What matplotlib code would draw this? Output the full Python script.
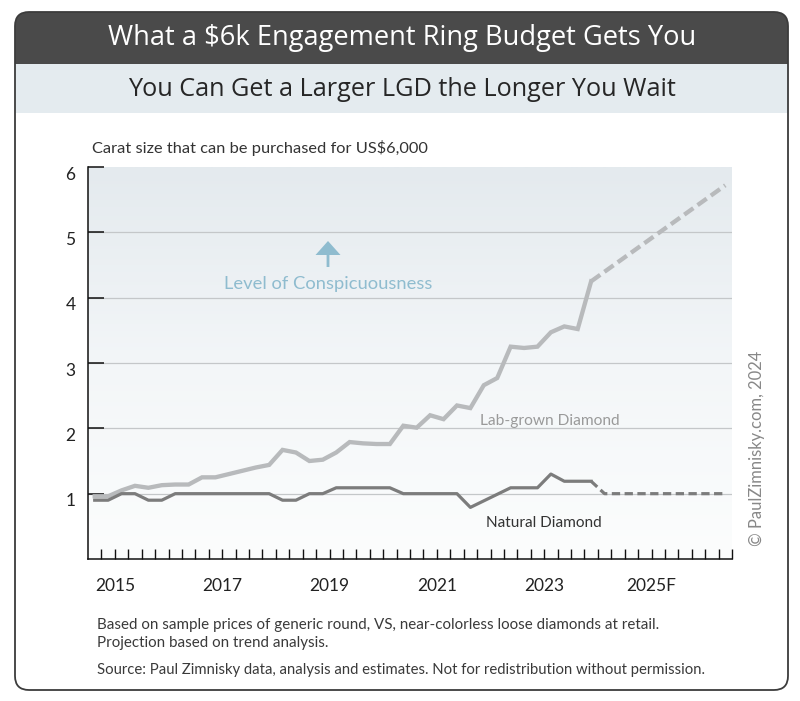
import matplotlib
matplotlib.use("Agg")
import matplotlib.pyplot as plt
import numpy as np
from matplotlib.patches import FancyBboxPatch, Rectangle, FancyArrow
from matplotlib.colors import LinearSegmentedColormap
from matplotlib.transforms import ScaledTranslation

plt.rcParams['font.family'] = ['Lato', 'DejaVu Sans']

# ---------------- data ----------------
years_q = [2015.125, 2015.375, 2015.625, 2015.875,
           2016.125, 2016.375, 2016.625, 2016.875,
           2017.125, 2017.375, 2017.625, 2017.875,
           2018.125, 2018.375, 2018.625, 2018.875,
           2019.125, 2019.375, 2019.625, 2019.875,
           2020.125, 2020.375, 2020.625, 2020.875,
           2021.125, 2021.375, 2021.625, 2021.875,
           2022.125, 2022.375, 2022.625, 2022.875,
           2023.125, 2023.375, 2023.625, 2023.875,
           2024.125, 2024.375]
lab_grown = [0.96, 0.96, 1.05, 1.12,
             1.09, 1.13, 1.14, 1.14,
             1.25, 1.25, 1.30, 1.35,
             1.40, 1.44, 1.67, 1.63,
             1.50, 1.52, 1.63, 1.79,
             1.77, 1.76, 1.76, 2.04,
             2.01, 2.20, 2.14, 2.35,
             2.31, 2.66, 2.77, 3.25,
             3.23, 3.25, 3.47, 3.56,
             3.52, 4.25]
natural = [0.90, 0.90, 1.00, 1.00,
           0.90, 0.90, 1.00, 1.00,
           1.00, 1.00, 1.00, 1.00,
           1.00, 1.00, 0.90, 0.90,
           1.00, 1.00, 1.09, 1.09,
           1.09, 1.09, 1.09, 1.00,
           1.00, 1.00, 1.00, 1.00,
           0.79, 0.89, 0.99, 1.09,
           1.09, 1.09, 1.30, 1.19,
           1.19, 1.19]
lab_proj_x = [2024.375, 2026.875]
lab_proj_y = [4.25, 5.72]
nat_proj_x = [2024.375, 2024.625, 2026.875]
nat_proj_y = [1.19, 1.00, 1.00]

year_labels = ['2015', '2017', '2019', '2021', '2023', '2025F']
year_label_pos = [2015.5, 2017.5, 2019.5, 2021.5, 2023.5, 2025.5]
y_ticks = [1, 2, 3, 4, 5, 6]
y_grid = [1, 2, 3, 4, 5]

title = 'What a $6k Engagement Ring Budget Gets You'
subtitle = 'You Can Get a Larger LGD the Longer You Wait'
ylabel_txt = 'Carat size that can be purchased for US$6,000'
note1 = 'Based on sample prices of generic round, VS, near-colorless loose diamonds at retail.'
note2 = 'Projection based on trend analysis.'
note3 = 'Source: Paul Zimnisky data, analysis and estimates. Not for redistribution without permission.'
copyright_txt = '\u00a9 PaulZimnisky.com, 2024'

# ---------------- figure ----------------
W, H = 800, 701
fig = plt.figure(figsize=(W / 100, H / 100), dpi=100)
fig.patch.set_facecolor('white')

bg = fig.add_axes([0, 0, 1, 1], zorder=0)
bg.set_xlim(0, W); bg.set_ylim(H, 0); bg.axis('off')

fg = fig.add_axes([0, 0, 1, 1], zorder=5)
fg.set_xlim(0, W); fg.set_ylim(H, 0); fg.axis('off')
fg.patch.set_alpha(0)

# card
bg.add_patch(FancyBboxPatch((15, 12), 773, 80, boxstyle='round,pad=0,rounding_size=14',
                            fc='#4a4a4a', ec='none'))
bg.add_patch(Rectangle((15, 64), 773, 49, fc='#e4ebef', ec='none'))
fg.add_patch(FancyBboxPatch((15, 12), 773, 678, boxstyle='round,pad=0,rounding_size=14',
                            fc='none', ec='#3c3c3c', lw=1.3))

renderer = fig.canvas.get_renderer()


def fit(ax, x, y, s, width_px, rotation=0, **kw):
    t = ax.text(x, y, s, fontsize=10, **kw)
    w = t.get_window_extent(renderer).width
    t.set_fontsize(10 * width_px / w)
    if rotation:
        t.set_rotation(rotation)
    return t


fit(fg, 402, 38, title, 589, ha='center', va='center', color='white',
    family=['Open Sans', 'DejaVu Sans'], weight='medium')
fit(fg, 402, 89, subtitle, 550, ha='center', va='center', color='#262626',
    family=['Open Sans', 'DejaVu Sans'], weight='medium')
fit(fg, 92, 148, ylabel_txt, 336, ha='left', va='center', color='#333333')
fit(fg, 328, 284, 'Level of Conspicuousness', 209, ha='center', va='center', color='#8fbccf')
fit(fg, 550, 421, 'Lab-grown Diamond', 140, ha='center', va='center', color='#9a9a9a')
fit(fg, 544, 523, 'Natural Diamond', 116, ha='center', va='center', color='#333333')
fit(fg, 757, 448, copyright_txt, 195, rotation=90, ha='center', va='center', color='#888888')
t1 = fit(fg, 97, 625, note1, 563, ha='left', va='center', color='#3a3a3a')
fg.text(97, 643, note2, fontsize=t1.get_fontsize(), ha='left', va='center', color='#3a3a3a')
fit(fg, 97, 670, note3, 611, ha='left', va='center', color='#3a3a3a')

fg.add_patch(FancyArrow(328, 267, 0, -26, width=2.8, head_width=25, head_length=14,
                        length_includes_head=True, fc='#8fbccf', ec='none'))

# ---------------- chart ----------------
ax = fig.add_axes([88 / W, 1 - 559 / H, (732 - 88) / W, (559 - 167) / H], zorder=1)
ax.patch.set_alpha(0)
ax.set_xlim(2015, 2027)
ax.set_ylim(0, 6)

cmap = LinearSegmentedColormap.from_list('bgfade', ['#fcfdfd', '#f3f6f8', '#e4eaee'])
grad = np.linspace(0, 1, 256).reshape(-1, 1)
ax.imshow(grad, extent=[2015, 2027, 0, 6], origin='lower', aspect='auto', cmap=cmap, zorder=0)

for g in y_grid:
    ax.axhline(g, color='#c4c7c9', lw=0.9, zorder=1)

ax.plot(years_q, lab_grown, color='#b8babc', lw=3.1, solid_joinstyle='miter', zorder=3)
ax.plot(lab_proj_x, lab_proj_y, color='#b8babc', lw=3.1, dashes=(2.6, 1.2), zorder=3)
ax.plot(years_q, natural, color='#7c7c7c', lw=2.3, zorder=4)
ax.plot(nat_proj_x, nat_proj_y, color='#7c7c7c', lw=2.3, dashes=(2.6, 1.4), zorder=4)

for sp in ['top', 'right']:
    ax.spines[sp].set_visible(False)
for sp in ['left', 'bottom']:
    ax.spines[sp].set_color('#111111')
    ax.spines[sp].set_linewidth(1.1)
    ax.spines[sp].set_zorder(5)

quarter_ticks = np.arange(2015.25, 2027.01, 0.25)
ax.set_xticks(quarter_ticks)
ax.set_xticklabels([])
ax.set_xticks(year_label_pos, minor=True)
ax.set_xticklabels(year_labels, minor=True)
ax.xaxis.remove_overlapping_locs = False
ax.tick_params(axis='x', which='major', direction='in', length=7.5, width=1.0, color='#111111')
ax.tick_params(axis='x', which='minor', length=0, pad=14, labelsize=12.5, labelcolor='#222222')

ax.set_yticks(y_ticks)
ax.set_yticklabels([str(v) for v in y_ticks])
ax.tick_params(axis='y', direction='in', length=11.5, width=1.1, color='#111111',
               pad=9, labelsize=12.5, labelcolor='#222222')
off = ScaledTranslation(0, -6 / 100, fig.dpi_scale_trans)
for lab in ax.get_yticklabels():
    lab.set_transform(lab.get_transform() + off)

fig.savefig('out.png', dpi=100)
